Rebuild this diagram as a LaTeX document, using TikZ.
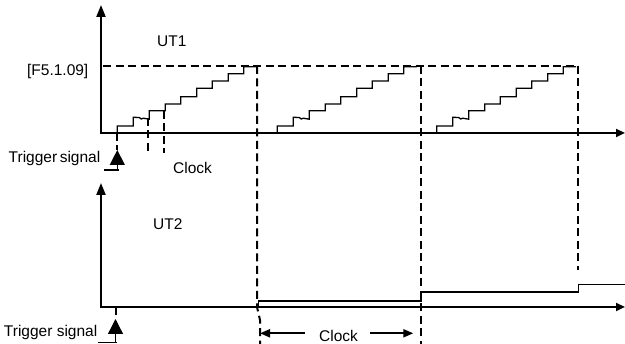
\documentclass[tikz,border=0pt]{standalone}
\usepackage{fontspec}
\setmainfont{Liberation Sans}
\usetikzlibrary{arrows.meta,positioning,calc}
\tikzset{
  axis/.style={line width=2.2pt, line join=miter,
               {Triangle[length=12pt,width=9pt]}-{Triangle[length=9pt,width=8pt]}},
  trace/.style={line width=1.3pt, line join=miter},
  level/.style={line width=2pt, dash pattern=on 8pt off 4.5pt},
  trig/.style={line width=1.3pt, -{Triangle[length=15pt,width=15pt]}},
  dim/.style={line width=2pt, -{Triangle[length=10pt,width=8pt]}},
  lbl/.style={inner sep=0pt, font=\fontsize{15.5}{18}\selectfont},
}
\begin{document}
\begin{tikzpicture}[x=1pt,y=-1pt]
  \useasboundingbox (0,0) rectangle (625,344);
  % axes
  \coordinate (top1) at (101,5);
  \coordinate (end1) at (625,133);
  \coordinate (top2) at (101,183);
  \coordinate (end2) at (625,307);
  \draw[axis] (top1) |- (end1);
  \draw[axis] (top2) |- (end2);

  % level and clock marks
  \coordinate (lvl0) at (103,66);
  \coordinate (lvl1) at (257,66);
  \coordinate (lvl2) at (420.5,66);
  \coordinate (lvl3) at (578,66);
  \draw[level] (lvl0) -- (lvl3);
  \draw[level] (lvl1) -- (257,307) -- (260,320) -- (260,344);
  \draw[level] (lvl2) -- (420.5,344);
  \draw[level] (lvl3) -- (578,270);
  \draw[level] (148.3,118) -- (148.3,153);
  \draw[level] (164.3,111) -- (164.3,153);

  % UT1 staircases
  \foreach \s in {117.3,277.3,436.7}
    \draw[trace, xshift=\s] (0,133) -- (0,126) -- (16,126) -- (16,117.3)
      -- (22,117.5) -- (24,119) -- (26,118.2) -- (32,119.2) -- (32,110.7)
      -- (48,110.7) -- (48,104) -- (63.5,104) -- (63.5,96.7) -- (79.5,96.7)
      -- (79.5,88.3) -- (95,88.3) -- (95,81) -- (111,81) -- (111,73.7)
      -- (126.5,73.7) -- (126.5,66.7) -- (139.5,66.7);

  % UT2 steps
  \draw[trace] (258.3,307) -- (258.3,301) -- (421,301) -- (421,292)
    -- (578.5,292) -- (578.5,284.3) -- (625,284.3);

  % trigger signals
  \coordinate (t1a) at (117.3,133);
  \coordinate (t1) at (117.3,150);
  \coordinate (t1f) at (117.3,170);
  \draw[level] (t1a) -- (t1);
  \draw[trig] (t1f) -- (t1);
  \draw[trace] ([xshift=-13pt]t1f) -- ([xshift=1.5pt]t1f);

  \coordinate (t2a) at (115.5,307);
  \coordinate (t2) at (115.5,319);
  \coordinate (t2f) at (115.5,342.5);
  \draw[level] (t2a) -- (t2);
  \draw[trig] (t2f) -- (t2);
  \draw[trace] ([xshift=-17.5pt]t2f) -- ([xshift=1.2pt]t2f);

  % labels
  \node[lbl, anchor=base west] (ut1) at (157,46.5) {UT1};
  \node[lbl, anchor=base east] (fmax) at (88.5,76) {[F5.1.09]};
  \node[lbl, anchor=base east] (trg1) at (100.5,163) {Trigger\,signal};
  \node[lbl, anchor=base west] (clk1) at (173,173.3) {Clock};
  \node[lbl, anchor=base west] (ut2) at (153,230) {UT2};
  \node[lbl, anchor=base east] (trg2) at (97.5,336.7) {Trigger signal};

  % clock interval
  \coordinate (cA) at (260,333.3);
  \coordinate (cB) at (413.3,333.3);
  \node[lbl] (clk2) at (338.5,335.8) {Clock};
  \draw[dim] ([xshift=-14pt]clk2.west |- cA) -- (cA);
  \draw[dim] ([xshift=12pt]clk2.east |- cB) -- (cB);
\end{tikzpicture}
\end{document}
